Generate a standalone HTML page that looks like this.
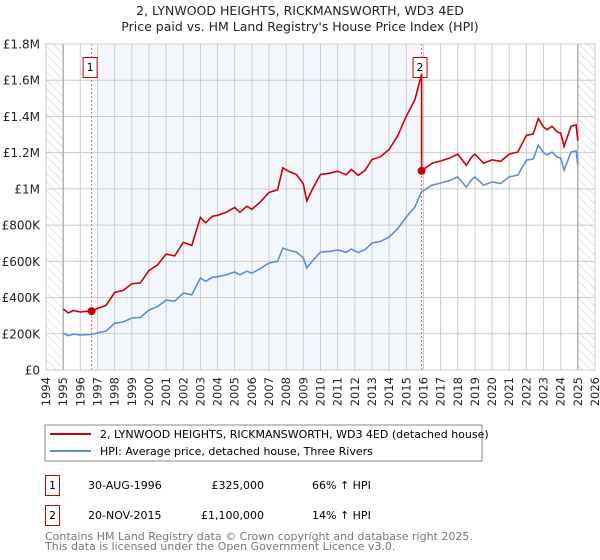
<!DOCTYPE html>
<html><head><meta charset="utf-8"><style>
body{margin:0;background:#fff;width:600px;height:560px;overflow:hidden;font-family:"DejaVu Sans","Liberation Sans",sans-serif}
svg{display:block}
</style></head><body>
<svg id="chart" width="600" height="560" viewBox="0 0 600 560" font-family="DejaVu Sans, Liberation Sans, sans-serif">
<defs><pattern id="hatch" width="6" height="6" patternUnits="userSpaceOnUse" patternTransform="rotate(-45)"><rect width="6" height="6" fill="#fff"/><line x1="0" y1="0" x2="0" y2="6" stroke="#ccc" stroke-width="1"/></pattern></defs>
<text x="300" y="15" text-anchor="middle" font-size="12.5" fill="#222">2, LYNWOOD HEIGHTS, RICKMANSWORTH, WD3 4ED</text>
<text x="300" y="31" text-anchor="middle" font-size="12.5" fill="#222">Price paid vs. HM Land Registry's House Price Index (HPI)</text>
<g id="plot"></g>
<rect x="45" y="425" width="437" height="36" fill="none" stroke="#888"/>
<line x1="50" y1="434" x2="91" y2="434" stroke="#cc0000" stroke-width="2"/>
<text x="100" y="438" font-size="11" fill="#000">2, LYNWOOD HEIGHTS, RICKMANSWORTH, WD3 4ED (detached house)</text>
<line x1="50" y1="451" x2="91" y2="451" stroke="#5b8fd0" stroke-width="2"/>
<text x="100" y="455" font-size="11" fill="#000">HPI: Average price, detached house, Three Rivers</text>
<g font-size="11" fill="#000">
<rect x="45.5" y="475.5" width="14" height="20" fill="none" stroke="#cc0000"/>
<text x="52.5" y="489" text-anchor="middle">1</text>
<text x="88" y="489">30-AUG-1996</text>
<text x="264" y="489" text-anchor="end">£325,000</text>
<text x="312" y="489">66% ↑ HPI</text>
</g>
<g font-size="11" fill="#000">
<rect x="45.5" y="505.5" width="14" height="20" fill="none" stroke="#cc0000"/>
<text x="52.5" y="519" text-anchor="middle">2</text>
<text x="88" y="519">20-NOV-2015</text>
<text x="264" y="519" text-anchor="end">£1,100,000</text>
<text x="312" y="519">14% ↑ HPI</text>
</g>
<text x="45" y="540" font-size="11" fill="#777">Contains HM Land Registry data © Crown copyright and database right 2025.</text>
<text x="45" y="550" font-size="11" fill="#777">This data is licensed under the Open Government Licence v3.0.</text>
</svg>
<script>
const years=[1995.0,1995.3,1995.6,1996.0,1996.3,1996.67,1997.0,1997.5,1998.0,1998.5,1999.0,1999.5,2000.0,2000.5,2001.0,2001.5,2002.0,2002.5,2003.0,2003.3,2003.7,2004.0,2004.5,2005.0,2005.3,2005.7,2006.0,2006.5,2007.0,2007.5,2007.8,2008.2,2008.6,2009.0,2009.2,2009.6,2010.0,2010.5,2011.0,2011.5,2011.8,2012.2,2012.6,2013.0,2013.5,2014.0,2014.5,2015.0,2015.5,2015.88,2016.5,2017.0,2017.5,2018.0,2018.5,2018.8,2019.0,2019.5,2020.0,2020.5,2021.0,2021.5,2022.0,2022.4,2022.7,2023.0,2023.2,2023.5,2023.8,2024.0,2024.2,2024.6,2024.9,2025.0];
const hpi=[203000,190000,198000,193000,195000,196000,205000,215000,258000,265000,287000,290000,331000,350000,386000,380000,425000,415000,508000,490000,512000,515000,525000,541000,525000,545000,535000,560000,591000,600000,673000,660000,651000,620000,563000,610000,651000,655000,662000,650000,668000,648000,665000,701000,710000,734000,780000,845000,900000,983000,1021000,1032000,1045000,1066000,1010000,1050000,1066000,1021000,1038000,1030000,1066000,1076000,1159000,1165000,1242000,1200000,1187000,1203000,1175000,1170000,1104000,1203000,1210000,1132000];
const saleYears=[1996.66,2015.89];
const salePrices=[325000,1100000];
const yTicks=[0,200000,400000,600000,800000,1000000,1200000,1400000,1600000,1800000];
const yTickLabels=["£0","£200K","£400K","£600K","£800K","£1M","£1.2M","£1.4M","£1.6M","£1.8M"];
const xTicks=[1994,1995,1996,1997,1998,1999,2000,2001,2002,2003,2004,2005,2006,2007,2008,2009,2010,2011,2012,2013,2014,2015,2016,2017,2018,2019,2020,2021,2022,2023,2024,2025,2026];
const NS="http://www.w3.org/2000/svg";
const X0=46,X1=595,Y0=370,Y1=44;
const xs=y=>X0+(y-1994)/(2026-1994)*(X1-X0);
const ys=v=>Y0-v/1800000*(Y0-Y1);
const g=document.getElementById('plot');
function mk(t,a){const e=document.createElementNS(NS,t);for(const k in a)e.setAttribute(k,a[k]);g.appendChild(e);return e;}
function hpiAt(t){for(let i=1;i<years.length;i++){if(t<=years[i]){const f=(t-years[i-1])/(years[i]-years[i-1]);return hpi[i-1]+f*(hpi[i]-hpi[i-1]);}}return hpi[hpi.length-1];}
// backgrounds
let e=mk('rect',{x:X0,y:Y1,width:X1-X0,height:Y0-Y1,fill:'#fff'});


e=mk('rect',{x:xs(1997),y:Y1,width:xs(saleYears[1])-xs(1997),height:Y0-Y1,fill:'#eef3fc',opacity:0.7});


e=mk('rect',{x:X0,y:Y1,width:xs(1995)-X0,height:Y0-Y1,fill:'url(#hatch)'});


e=mk('rect',{x:xs(2025),y:Y1,width:X1-xs(2025),height:Y0-Y1,fill:'url(#hatch)'});


// grid
xTicks.forEach((t,i)=>{
 const gl=mk('line',{x1:xs(t),x2:xs(t),y1:Y1,y2:Y0,stroke:'#ccc','stroke-width':1});
 
 
 const tx=mk('text',{x:0,y:0,'font-size':11.5,fill:'#222','text-anchor':'end',transform:`translate(${xs(t)+4},${Y0+7}) rotate(-90)`});
 tx.textContent=t;
 
 
});
yTicks.forEach((v,i)=>{
 const gl=mk('line',{x1:X0,x2:X1,y1:ys(v),y2:ys(v),stroke:'#ccc','stroke-width':1});
 
 
 const tx=mk('text',{x:X0-6,y:ys(v)+4.5,'font-size':12,fill:'#222','text-anchor':'end'});
 tx.textContent=yTickLabels[i];
 
 
});
e=mk('line',{x1:xs(1995),x2:xs(1995),y1:Y1,y2:Y0,stroke:'#999','stroke-width':1});


e=mk('line',{x1:xs(2025),x2:xs(2025),y1:Y1,y2:Y0,stroke:'#999','stroke-width':1});


// sale markers
saleYears.forEach((s,i)=>{
 const l=mk('line',{x1:xs(s),x2:xs(s),y1:Y1,y2:Y0,stroke:'#e06666','stroke-width':1,'stroke-dasharray':'2,2'});
 
 
 const r=mk('rect',{x:xs(s)-8.5,y:57.5,width:14,height:20,fill:'#fff',stroke:'#cc0000'});
 
 
 const t=mk('text',{x:xs(s)-1.5,y:71,'font-size':11,fill:'#000','text-anchor':'middle'});
 t.textContent=String(i+1);
 
 
});
// hpi line
let d='';years.forEach((t,i)=>{d+=(i?'L':'M')+xs(t).toFixed(1)+','+ys(hpi[i]).toFixed(1);});
e=mk('path',{d:d,fill:'none',stroke:'#5b8fd0','stroke-width':1.6});


// property line
const r1=salePrices[0]/hpiAt(saleYears[0]), r2=salePrices[1]/hpiAt(saleYears[1]);
let pd='';let first=true;
const pts=[];
years.forEach((t,i)=>{ if(t<saleYears[1]) pts.push([t,hpi[i]*r1]); });
pts.push([saleYears[1],hpiAt(saleYears[1])*r1]);
pts.push([saleYears[1],salePrices[1]]);
years.forEach((t,i)=>{ if(t>saleYears[1]) pts.push([t,hpi[i]*r2]); });
pts.forEach((p,i)=>{pd+=(i?'L':'M')+xs(p[0]).toFixed(1)+','+ys(p[1]).toFixed(1);});
e=mk('path',{d:pd,fill:'none',stroke:'#cc0000','stroke-width':1.6});


saleYears.forEach((s,i)=>{
 const c=mk('circle',{cx:xs(s),cy:ys(salePrices[i]),r:4,fill:'#cc0000'});
 
 
});
e=mk('rect',{x:X0,y:Y1,width:X1-X0,height:Y0-Y1,fill:'none',stroke:'#ccc'});


</script>
</body></html>
